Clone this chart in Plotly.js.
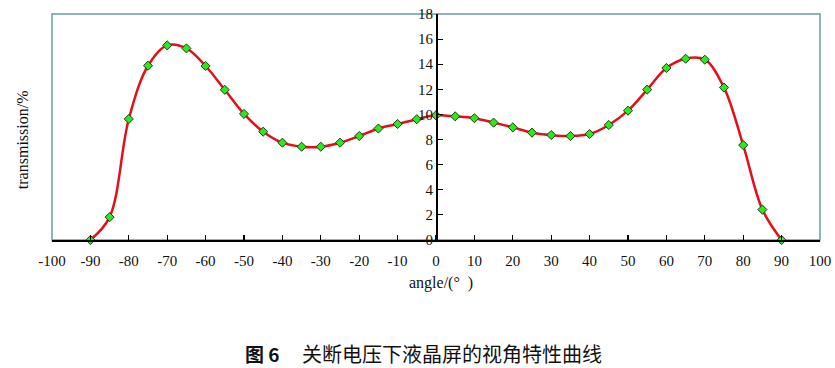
<!DOCTYPE html>
<html>
<head>
<meta charset="utf-8">
<script src="https://cdn.plot.ly/plotly-3.0.1.min.js"></script>
<style>html,body{margin:0;padding:0;background:#fff;}#chart{width:835px;height:368px;}</style>
</head>
<body>
<div id="chart"></div>
<script>
const angles = [-90,-85,-80,-75,-70,-65,-60,-55,-50,-45,-40,-35,-30,-25,-20,-15,-10,-5,0,5,10,15,20,25,30,35,40,45,50,55,60,65,70,75,80,85,90];
const transmission = [0,1.82,9.64,13.88,15.5,15.26,13.86,11.96,10.04,8.63,7.75,7.43,7.43,7.75,8.28,8.88,9.24,9.62,9.93,9.85,9.7,9.35,8.97,8.55,8.36,8.28,8.44,9.16,10.3,11.98,13.7,14.44,14.36,12.14,7.56,2.42,0];
const xTicks = [-100,-90,-80,-70,-60,-50,-40,-30,-20,-10,0,10,20,30,40,50,60,70,80,90,100];
const yTicks = [0,2,4,6,8,10,12,14,16,18];
const yTitle = 'transmission/%';
const xTitle = 'angle/(°  )';
const captionLabel = '图 6';
const captionText = '关断电压下液晶屏的视角特性曲线';

const serif = 'Liberation Serif, Times New Roman, serif';
const cjk = 'Noto Sans CJK SC, sans-serif';
const trace = {
  x: angles, y: transmission, type: 'scatter', mode: 'lines+markers',
  line: {color: '#e3101a', width: 2.5, shape: 'spline', smoothing: 1},
  marker: {symbol: 'diamond', size: 7, color: '#2ee81e', line: {color: '#1f3d12', width: 1}},
  cliponaxis: false, showlegend: false
};
const layout = {
  width: 835, height: 368,
  margin: {l: 52, r: 15, t: 14, b: 128},
  paper_bgcolor: '#fff', plot_bgcolor: '#fff',
  font: {family: serif, color: '#111', size: 15},
  xaxis: {
    range: [-100, 100], tickvals: xTicks, ticktext: xTicks.map(String),
    showgrid: false, zeroline: false, showline: true, linecolor: '#000', linewidth: 1.5,
    ticks: 'inside', ticklen: 5, tickcolor: '#000', tickwidth: 1.2,
    ticklabelstandoff: 6, tickfont: {family: serif, size: 15, color: '#111'}
  },
  yaxis: {
    range: [0, 18], tickvals: yTicks, ticktext: yTicks.map(String),
    anchor: 'free', position: 0.5, side: 'left',
    showgrid: false, zeroline: false, showline: true, linecolor: '#000', linewidth: 1.5,
    ticks: 'inside', ticklen: 5, tickcolor: '#000', tickwidth: 1.2,
    tickfont: {family: serif, size: 15, color: '#111'}
  },
  shapes: [{type: 'rect', xref: 'paper', yref: 'paper', x0: 0, x1: 1, y0: 0, y1: 1,
    line: {color: '#6a9c9c', width: 1.5}, layer: 'below'}],
  annotations: [
    {text: yTitle, xref: 'paper', yref: 'paper', x: -0.039, y: 0.442, textangle: -90,
     showarrow: false, xanchor: 'center', yanchor: 'middle', font: {family: serif, size: 16, color: '#111'}},
    {text: xTitle, xref: 'paper', yref: 'paper', x: 0.507, y: -0.19,
     showarrow: false, xanchor: 'center', yanchor: 'middle', font: {family: serif, size: 16, color: '#111'}},
    {text: '<b>' + captionLabel + '</b>', xref: 'paper', yref: 'paper', x: (243 - 52) / 768, y: -0.5,
     showarrow: false, xanchor: 'left', yanchor: 'middle', font: {family: cjk, size: 19, color: '#111'}},
    {text: captionText, xref: 'paper', yref: 'paper', x: (300 - 52) / 768, y: -0.5,
     showarrow: false, xanchor: 'left', yanchor: 'middle', font: {family: cjk, size: 20, color: '#111'}}
  ]
};
Plotly.newPlot('chart', [trace], layout, {staticPlot: true, displayModeBar: false});
</script>
</body>
</html>
